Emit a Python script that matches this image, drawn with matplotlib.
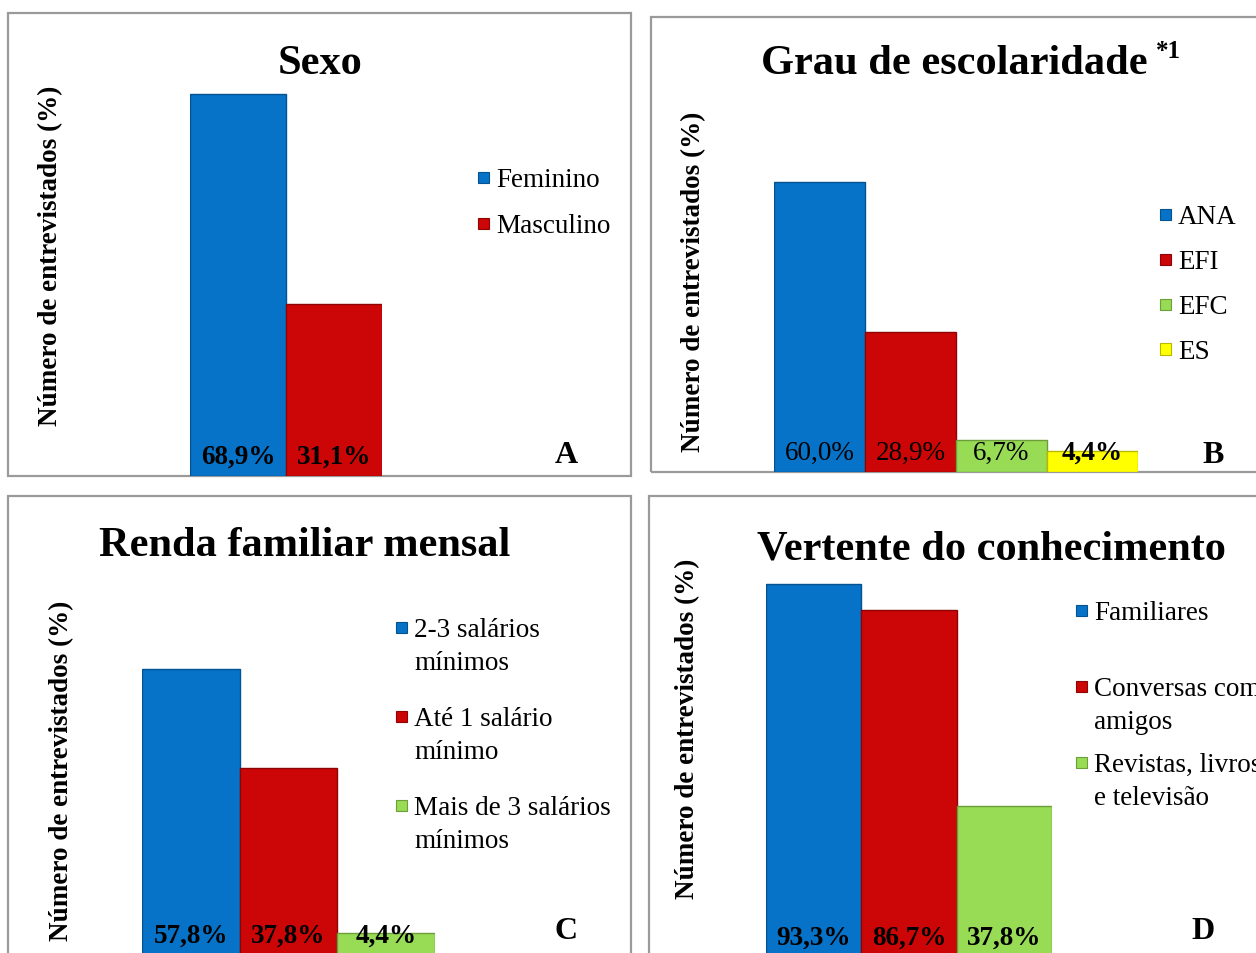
import matplotlib
matplotlib.use("Agg")
import matplotlib.pyplot as plt
from matplotlib.patches import Rectangle
import numpy as np

plt.rcParams['font.family'] = ['Liberation Serif', 'DejaVu Serif']

# ---------------- data ----------------
sexo_labels = ["Feminino", "Masculino"]
sexo_values = [68.9, 31.1]

escol_labels = ["ANA", "EFI", "EFC", "ES"]
escol_values = [60.0, 28.9, 6.7, 4.4]

renda_labels = ["2-3 salários\nmínimos", "Até 1 salário\nmínimo", "Mais de 3 salários\nmínimos"]
renda_values = [57.8, 37.8, 4.4]

vert_labels = ["Familiares", "Conversas com\namigos", "Revistas, livros\ne televisão"]
vert_values = [93.3, 86.7, 37.8]

titles = ["Sexo", "Grau de escolaridade", "Renda familiar mensal", "Vertente do conhecimento"]
letters = ["A", "B", "C", "D"]
ylabel = "Número de entrevistados (%)"

colors = ["#0673C9", "#CC0606", "#98DB55", "#FFFF00"]
edges = ["#04528F", "#8E0404", "#6C9E3A", "#B8B800"]

W, H = 1256, 954
fig = plt.figure(figsize=(W / 100, H / 100), dpi=100)

def fx(px):
    return px / W

def fy(py):
    return 1 - py / H

# panel layout in pixels
panels = [
    dict(vals=sexo_values, labs=sexo_labels, title=titles[0], letter=letters[0],
         frame=(8, 14, 631, 477), bars=(190, 382), base=477, top=95,
         title_xy=(320, 64), letter_xy=(566, 456), ylab_xy=(51, 256),
         leg_x=483, leg_y=[178, 224], weights=["bold"] * 2),
    dict(vals=escol_values, labs=escol_labels, title=titles[1], letter=letters[1],
         frame=(651, 18, 1262, 473), bars=(774, 1138), base=473, top=183,
         title_xy=(954, 64), letter_xy=(1213, 456), ylab_xy=(694, 282),
         leg_x=1165, leg_y=[215, 260, 305, 350],
         weights=["normal", "normal", "normal", "bold"]),
    dict(vals=renda_values, labs=renda_labels, title=titles[2], letter=letters[2],
         frame=(8, 497, 631, 964), bars=(142, 435), base=956, top=670,
         title_xy=(305, 546), letter_xy=(566, 932), ylab_xy=(62, 771),
         leg_x=401, leg_y=[628, 717, 806], weights=["bold"] * 3),
    dict(vals=vert_values, labs=vert_labels, title=titles[3], letter=letters[3],
         frame=(649, 497, 1262, 964), bars=(766, 1052), base=958, top=585,
         title_xy=(991, 549), letter_xy=(1203, 932), ylab_xy=(688, 729),
         leg_x=1081, leg_y=[611, 687, 763], weights=["bold"] * 3),
]

for p in panels:
    x0, y0, x1, y1 = p["frame"]
    fig.patches.append(Rectangle((fx(x0), fy(y1)), fx(x1 - x0), (y1 - y0) / H,
                                 transform=fig.transFigure, facecolor="none",
                                 edgecolor="#9A9A9A", linewidth=1.6, zorder=-1))

    vals = p["vals"]
    n = len(vals)
    bl, br = p["bars"]
    ax_top_px = p["top"] - 20
    ax_h = p["base"] - ax_top_px
    ax = fig.add_axes([fx(bl), fy(p["base"]), fx(br - bl), ax_h / H])
    ax.set_xlim(-0.5, n - 0.5)
    ymax = max(vals) * ax_h / (p["base"] - p["top"])
    ax.set_ylim(0, ymax)
    ax.axis("off")
    ax.patch.set_alpha(0)
    xs = np.arange(n)
    ax.bar(xs, vals, width=1.0, color=colors[:n], edgecolor=edges[:n], linewidth=1.0, zorder=2)
    for x, v, wt in zip(xs, vals, p["weights"]):
        ax.annotate(f"{v:.1f}%".replace(".", ","), xy=(x, 0), xytext=(0, 14),
                    textcoords="offset points", ha="center", va="center",
                    fontsize=19.5, fontweight=wt, color="black", zorder=3,
                    annotation_clip=False)

    tx, ty = p["title_xy"]
    fig.text(fx(tx), fy(ty), p["title"], ha="center", va="center",
             fontsize=30.5, fontweight="bold")
    lx, ly = p["letter_xy"]
    fig.text(fx(lx), fy(ly), p["letter"], ha="center", va="center",
             fontsize=23, fontweight="bold")
    yx, yy = p["ylab_xy"]
    fig.text(fx(yx), fy(yy), ylabel, ha="center", va="center", rotation=90,
             fontsize=19.5, fontweight="bold")

    # legend
    for i, (lab, lyy) in enumerate(zip(p["labs"], p["leg_y"])):
        s = 11
        fig.patches.append(Rectangle((fx(p["leg_x"] - s / 2), fy(lyy + s / 2)), s / W, s / H,
                                     transform=fig.transFigure, facecolor=colors[i],
                                     edgecolor=edges[i], linewidth=0.8, zorder=3))
        fig.text(fx(p["leg_x"] + 13), fy(lyy - 10), lab, ha="left", va="top",
                 fontsize=19.5, linespacing=1.4)

# superscript *1 on title B
fig.text(fx(1156), fy(52), "*1", ha="left", va="center", fontsize=18, fontweight="bold")

fig.savefig("out.png", dpi=100)
